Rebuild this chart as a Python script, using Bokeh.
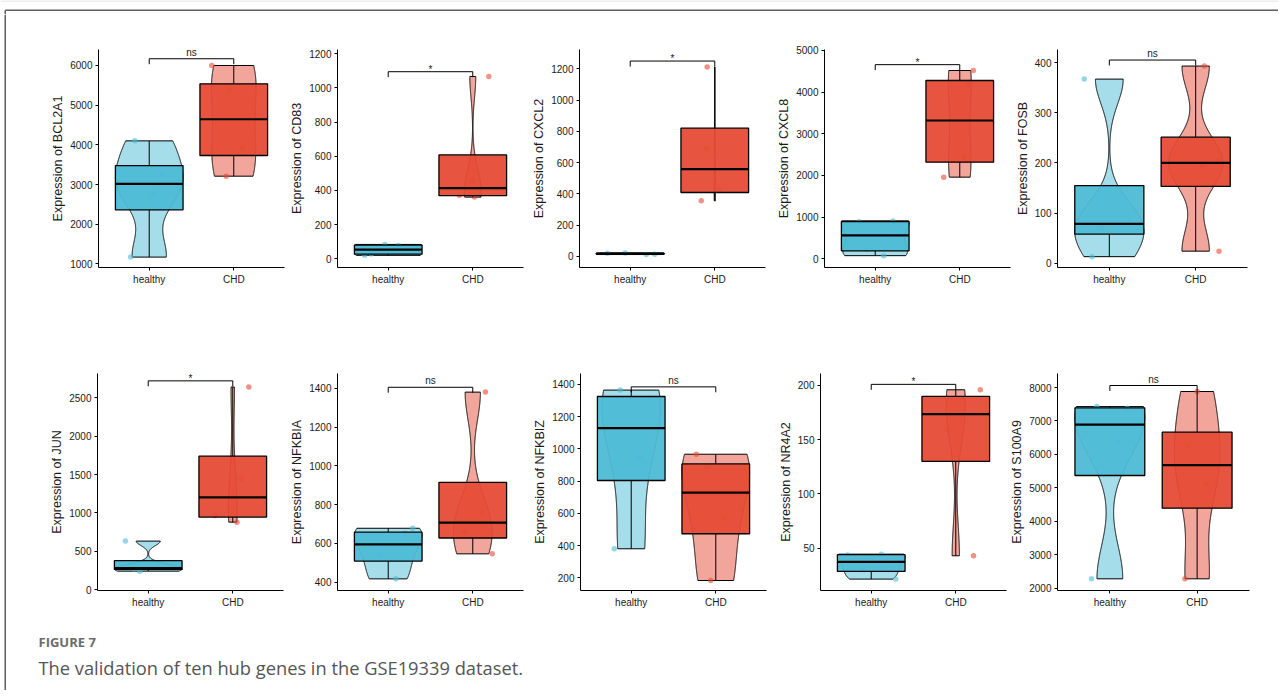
import numpy as np
from bokeh.plotting import figure
from bokeh.layouts import row, column
from bokeh.models import Range1d, FixedTicker
from bokeh.core.properties import value
from bokeh.embed import file_html
from bokeh.resources import INLINE

# ---------------- data ----------------
GROUPS = ["healthy", "CHD"]
GENES = ["BCL2A1", "CD83", "CXCL2", "CXCL8", "FOSB",
         "JUN", "NFKBIA", "NFKBIZ", "NR4A2", "S100A9"]

BCL2A1_healthy = [1170, 2760, 3270, 4100]
BCL2A1_chd = [3210, 3905, 5385, 6000]
CD83_healthy = [20, 29, 78, 84]
CD83_chd = [361, 372, 455, 1067]
CXCL2_healthy = [11, 13, 19, 21]
CXCL2_chd = [355, 426, 690, 1212]
CXCL8_healthy = [75, 230, 890, 910]
CXCL8_chd = [1960, 2440, 4200, 4520]
FOSB_healthy = [13, 73, 84, 367]
FOSB_chd = [24, 196, 204, 393]
JUN_healthy = [243, 273, 295, 634]
JUN_chd = [881, 968, 1440, 2640]
NFKBIA_healthy = [417, 539, 651, 678]
NFKBIA_chd = [546, 655, 760, 1380]
NFKBIZ_healthy = [380, 945, 1312, 1365]
NFKBIZ_chd = [183, 570, 887, 967]
NR4A2_healthy = [21.5, 31, 43.8, 44.5]
NR4A2_chd = [43, 159, 188, 196]
S100A9_healthy = [2280, 6400, 7382, 7430]
S100A9_chd = [2280, 5097, 6261, 7880]

HEALTHY = [BCL2A1_healthy, CD83_healthy, CXCL2_healthy, CXCL8_healthy, FOSB_healthy,
           JUN_healthy, NFKBIA_healthy, NFKBIZ_healthy, NR4A2_healthy, S100A9_healthy]
CHD = [BCL2A1_chd, CD83_chd, CXCL2_chd, CXCL8_chd, FOSB_chd,
       JUN_chd, NFKBIA_chd, NFKBIZ_chd, NR4A2_chd, S100A9_chd]

# significance labels and bracket heights
SIG_LABELS = ["ns", "*", "*", "*", "ns", "*", "ns", "ns", "*", "ns"]
BRACKET_Y = [6170, 1095, 1250, 4660, 405, 2720, 1405, 1385, 201, 8060]

# axis tick values
Y_TICKS = [
    [1000, 2000, 3000, 4000, 5000, 6000],
    [0, 200, 400, 600, 800, 1000, 1200],
    [0, 200, 400, 600, 800, 1000, 1200],
    [0, 1000, 2000, 3000, 4000, 5000],
    [0, 100, 200, 300, 400],
    [0, 500, 1000, 1500, 2000, 2500],
    [400, 600, 800, 1000, 1200, 1400],
    [200, 400, 600, 800, 1000, 1200, 1400],
    [50, 100, 150, 200],
    [2000, 3000, 4000, 5000, 6000, 7000, 8000],
]
Y_RANGES = [(908, 6403), (-51, 1225), (-72, 1324), (-209, 5024), (-8.6, 426),
            (-9, 2816), (357, 1476), (121, 1468), (11, 211), (1931, 8419)]

# jitter offsets of the points (x units)
JIT_H = [[-0.22, 0.05, 0.15, -0.17], [-0.28, -0.2, 0.12, -0.04], [0.19, 0.29, -0.27, -0.06],
         [0.1, -0.1, -0.19, 0.21], [-0.2, -0.09, 0.23, -0.29], [-0.1, -0.17, 0.01, -0.27],
         [0.09, -0.1, 0.2, 0.29], [-0.2, 0.1, 0.2, -0.13], [0.29, -0.1, -0.28, 0.12],
         [-0.21, 0.1, 0.2, -0.15]]
JIT_C = [[-0.09, 0.1, -0.05, -0.26], [0.02, -0.16, 0.0, 0.19], [-0.16, 0.05, -0.1, -0.09],
         [-0.19, 0.05, 0.1, 0.16], [0.27, 0.07, 0.26, 0.1], [0.05, -0.21, 0.1, 0.19],
         [0.23, -0.1, 0.1, 0.15], [-0.06, 0.1, -0.1, -0.23], [0.21, -0.1, 0.1, 0.29],
         [-0.14, 0.1, -0.1, 0.0]]

# ---------------- styling / layout ----------------
DARK = ["#4DBBD5", "#E64B35"]
LIGHT = ["#A6DDEA", "#F2A59A"]
FONT = "Liberation Sans"
FRAME_COLOR = "#5f5f5f"
VIOLIN_W = 0.8
BOX_W = 0.8

ROW1 = dict(fw=[186, 186, 186, 186, 190], mbl=[90, 51, 54, 56, 46], mbr=[2, 2, 3, 1, 31],
            mbt=35, fh=218, mbb=43)
ROW2 = dict(fw=[186, 186, 186, 186, 192], mbl=[89, 51, 55, 50, 50], mbr=[3, 2, 4, 1, 29],
            mbt=63, fh=217, mbb=22)


def kde(vals):
    x = np.asarray(vals, float)
    n = len(x)
    sd = x.std(ddof=1)
    q1, q3 = np.percentile(x, [25, 75])
    lo = min(sd, (q3 - q1) / 1.34)
    if lo <= 0:
        lo = sd
    bw = 0.9 * lo * n ** -0.2
    grid = np.linspace(x.min(), x.max(), 512)
    d = np.exp(-0.5 * ((grid[:, None] - x[None, :]) / bw) ** 2).sum(1) / (n * bw * np.sqrt(2 * np.pi))
    return grid, d


def blank(w, h, xr, yr):
    f = figure(width=w, height=h, x_range=Range1d(*xr), y_range=Range1d(*yr), min_border=0,
               output_backend="svg", toolbar_location=None)
    f.axis.visible = False
    f.grid.visible = False
    f.outline_line_color = None
    return f


def panel(i, fw, fh, mbl, mbr, mbt, mbb):
    y0, y1 = Y_RANGES[i]
    p = figure(frame_width=fw, frame_height=fh, min_border_left=mbl, min_border_right=mbr,
               min_border_top=mbt, min_border_bottom=mbb,
               x_range=Range1d(0.4, 2.6), y_range=Range1d(y0, y1),
               output_backend="svg", toolbar_location=None)
    p.outline_line_color = None
    p.grid.visible = False

    groups = [HEALTHY[i], CHD[i]]
    jits = [JIT_H[i], JIT_C[i]]
    dens = [kde(g) for g in groups]
    dmax = max(d.max() for _, d in dens)

    for k, vals in enumerate(groups):
        c = k + 1
        x = np.asarray(vals, float)
        grid, d = dens[k]
        half = d / dmax * VIOLIN_W / 2
        xs = np.concatenate([c - half, (c + half)[::-1]])
        ys = np.concatenate([grid, grid[::-1]])
        p.patch(xs, ys, fill_color=LIGHT[k], line_color="black", line_width=1)

        p.scatter(c + np.asarray(jits[k]), x, size=5.5, fill_color=DARK[k],
                  fill_alpha=0.6, line_color=None)

        q1, med, q3 = np.percentile(x, [25, 50, 75])
        iqr = q3 - q1
        up = x[x <= q3 + 1.5 * iqr].max()
        lo = x[x >= q1 - 1.5 * iqr].min()
        if up > q3:
            p.segment(x0=[c], y0=[q3], x1=[c], y1=[up], line_color="black", line_width=1)
        if lo < q1:
            p.segment(x0=[c], y0=[lo], x1=[c], y1=[q1], line_color="black", line_width=1)
        p.quad(left=[c - BOX_W / 2], right=[c + BOX_W / 2], bottom=[q1], top=[q3],
               fill_color=DARK[k], fill_alpha=0.95, line_color="black", line_width=1.3)
        p.segment(x0=[c - BOX_W / 2], y0=[med], x1=[c + BOX_W / 2], y1=[med],
                  line_color="black", line_width=2.2)

    # significance bracket
    by = BRACKET_Y[i]
    tip = 0.025 * (y1 - y0)
    p.multi_line(xs=[[1, 1, 2, 2]], ys=[[by - tip, by, by, by - tip]],
                 line_color="black", line_width=1)
    star = SIG_LABELS[i] == "*"
    p.text(x=[1.5], y=[by], text=[SIG_LABELS[i]], text_align="center",
           text_baseline="bottom", y_offset=3 if star else -1, text_font=value(FONT),
           text_font_size="10px", text_color="#1a1a1a")

    # axes
    p.xaxis.ticker = FixedTicker(ticks=[1, 2])
    p.xaxis.major_label_overrides = {1: GROUPS[0], 2: GROUPS[1]}
    p.yaxis.ticker = FixedTicker(ticks=Y_TICKS[i])
    p.yaxis.axis_label = "Expression of " + GENES[i]
    for ax in (p.xaxis, p.yaxis):
        ax.axis_line_color = "black"
        ax.axis_line_width = 1
        ax.major_tick_line_color = "black"
        ax.major_tick_in = 0
        ax.major_tick_out = 3
        ax.minor_tick_line_color = None
        ax.major_label_standoff = 3
        ax.major_label_text_font = FONT
        ax.major_label_text_font_size = "10px"
        ax.major_label_text_color = "#1a1a1a"
    p.yaxis.axis_label_text_font = FONT
    p.yaxis.axis_label_text_font_size = "12.5px"
    p.yaxis.axis_label_text_font_style = "normal"
    p.yaxis.axis_label_text_color = "#1a1a1a"
    p.yaxis.axis_label_standoff = 2
    return p


def make_row(start, cfg):
    figs = []
    for j in range(5):
        figs.append(panel(start + j, cfg["fw"][j], cfg["fh"], cfg["mbl"][j], cfg["mbr"][j],
                          cfg["mbt"], cfg["mbb"]))
    return row(*figs)


row1 = make_row(0, ROW1)
row2 = make_row(5, ROW2)

# frame of the figure page: faint top edge, top rule and left rule
header = blank(1278, 14, (0, 1278), (0, 14))
header.segment(x0=[0], y0=[13.5], x1=[1278], y1=[13.5], line_color="#dddddd", line_width=1)
header.segment(x0=[4.75], y0=[4.25], x1=[1278], y1=[4.25], line_color=FRAME_COLOR, line_width=1.5)
header.segment(x0=[4.75], y0=[0], x1=[4.75], y1=[4.25], line_color=FRAME_COLOR, line_width=1.5)
strip = blank(8, 676, (0, 8), (0, 676))
strip.segment(x0=[4.75], y0=[0], x1=[4.75], y1=[676], line_color=FRAME_COLOR, line_width=1.5)

# caption
cap = blank(1270, 78, (0, 1270), (0, 78))
cap.text(x=[30], y=[49], text=["FIGURE 7"], text_baseline="middle",
         text_font=value("Open Sans"), text_font_size="13px", text_font_style="bold",
         text_color="#6b6b6b")
cap.text(x=[30], y=[23], text=["The validation of ten hub genes in the GSE19339 dataset."],
         text_baseline="middle", text_font=value("Open Sans"), text_font_size="18.3px",
         text_color="#555555")

layout = column(header, row(strip, column(row1, row2, cap)))

open("out.html", "w").write(file_html(layout, INLINE))
